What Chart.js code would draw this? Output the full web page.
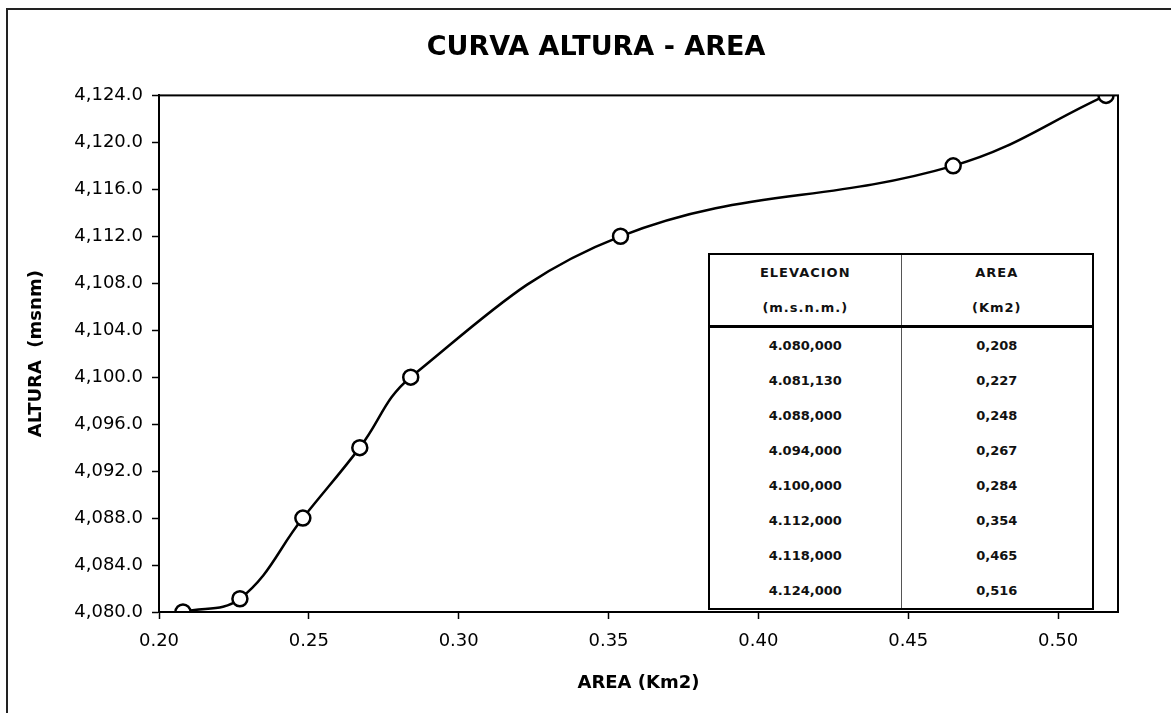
<!DOCTYPE html>
<html>
<head>
<meta charset="utf-8">
<script src="https://cdn.jsdelivr.net/npm/chart.js@4/dist/chart.umd.min.js"></script>
<style>
body { margin: 0; background: #fff; }
#wrap { position: relative; width: 1171px; height: 713px; }
#tabla {
  position: absolute; left: 708px; top: 253px; width: 386px;
  border-collapse: collapse; border: 2px solid #000;
  font-family: "DejaVu Sans", Arial, sans-serif; font-weight: bold; font-size: 13px;
  background: #fff; color: #111; text-align: center;
}
#tabla td { border-left: 1px solid #555; padding: 0; height: 35px; width: 50%; }
#tabla td:first-child { border-left: none; }
#tabla tr.h td { letter-spacing: 1px; }
#tabla tr.h2 td { border-bottom: 3px solid #000; }
</style>
</head>
<body>
<div id="wrap">
<canvas id="myChart" width="1171" height="713"></canvas>
<table id="tabla"></table>
</div>
<script>
// datos de la curva altura - area
var elevacion = [4080, 4081.13, 4088, 4094, 4100, 4112, 4118, 4124];
var area = [0.208, 0.227, 0.248, 0.267, 0.284, 0.354, 0.465, 0.516];
var encabezado1 = ["ELEVACION", "AREA"];
var encabezado2 = ["(m.s.n.m.)", "(Km2)"];

// formato 4.080,000 / 0,208
function fmtEs(v) {
  var s = v.toFixed(3).split(".");
  var ent = s[0].replace(/\B(?=(\d{3})+(?!\d))/g, ".");
  return ent + "," + s[1];
}

var tabla = document.getElementById("tabla");
var html = '<tr class="h"><td>' + encabezado1[0] + '</td><td>' + encabezado1[1] + '</td></tr>';
html += '<tr class="h h2"><td>' + encabezado2[0] + '</td><td>' + encabezado2[1] + '</td></tr>';
for (var i = 0; i < elevacion.length; i++) {
  html += '<tr><td>' + fmtEs(elevacion[i]) + '</td><td>' + fmtEs(area[i]) + '</td></tr>';
}
tabla.innerHTML = html;

var puntos = [];
for (var n = 0; n < area.length; n++) {
  puntos.push({ x: area[n], y: elevacion[n] });
}

// marco (solo arriba e izquierda, como en el escaneo) y borde del area
var marco = {
  id: "marco",
  beforeDraw: function (chart) {
    var c = chart.ctx;
    c.save();
    c.fillStyle = "#fff";
    c.fillRect(0, 0, chart.width, chart.height);
    c.strokeStyle = "#222";
    c.lineWidth = 2;
    c.beginPath();
    c.moveTo(7, chart.height);
    c.lineTo(7, 9);
    c.lineTo(chart.width, 9);
    c.stroke();
    c.restore();
  },
  afterDatasetsDraw: function (chart) {
    var a = chart.chartArea, c = chart.ctx;
    c.save();
    c.strokeStyle = "#000";
    c.lineWidth = 2;
    c.strokeRect(a.left, a.top, a.right - a.left, a.bottom - a.top);
    c.restore();
  }
};

var fuente = "'DejaVu Sans', Arial, sans-serif";
var myChart = new Chart(document.getElementById("myChart").getContext("2d"), {
  type: "scatter",
  data: {
    datasets: [{
      label: "Altura - Area",
      data: puntos,
      showLine: true,
      tension: 0.4,
      borderColor: "#000",
      borderWidth: 2.5,
      pointRadius: 7.5,
      pointBorderWidth: 2.5,
      pointBackgroundColor: "#fff",
      pointBorderColor: "#000"
    }]
  },
  plugins: [marco],
  options: {
    responsive: false,
    animation: false,
    layout: { padding: { left: 24, right: 3, top: 0, bottom: 14 } },
    plugins: {
      legend: { display: false },
      tooltip: { enabled: false },
      title: {
        display: true,
        text: "CURVA ALTURA - AREA",
        color: "#000",
        font: { family: fuente, size: 27, weight: "bold" },
        padding: { top: 32, bottom: 31 }
      }
    },
    scales: {
      x: {
        type: "linear",
        min: 0.2,
        max: 0.52,
        afterFit: function (s) { s.height = 87; },
        title: {
          display: true, text: "AREA (Km2)", color: "#000",
          font: { family: fuente, size: 18, weight: "bold" },
          padding: { top: 4, bottom: 5 }
        },
        grid: { drawOnChartArea: false, color: "#000", tickLength: 7, tickWidth: 1.5 },
        border: { color: "#000", width: 2 },
        ticks: {
          stepSize: 0.05, includeBounds: false, color: "#000", padding: 12,
          font: { family: fuente, size: 18 },
          callback: function (v) { return Number(v).toFixed(2); }
        }
      },
      y: {
        min: 4080,
        max: 4124,
        afterFit: function (s) { s.width = 135; },
        title: {
          display: true, text: "ALTURA  (msnm)", color: "#000",
          font: { family: fuente, size: 18, weight: "bold" },
          padding: { top: 2, bottom: 4 }
        },
        grid: { drawOnChartArea: false, color: "#000", tickLength: 7, tickWidth: 1.5 },
        border: { color: "#000", width: 2 },
        ticks: {
          stepSize: 4, color: "#000", padding: 9,
          font: { family: fuente, size: 18 },
          callback: function (v) {
            return v.toLocaleString("en-US", { minimumFractionDigits: 1, maximumFractionDigits: 1 });
          }
        }
      },
      // eje invisible a la derecha solo para dejar el margen del original
      y2: {
        position: "right",
        display: true,
        min: 0,
        max: 1,
        afterFit: function (s) { s.width = 50; },
        grid: { display: false, drawTicks: false },
        border: { display: false },
        ticks: { display: false }
      }
    }
  }
});
</script>
</body>
</html>
